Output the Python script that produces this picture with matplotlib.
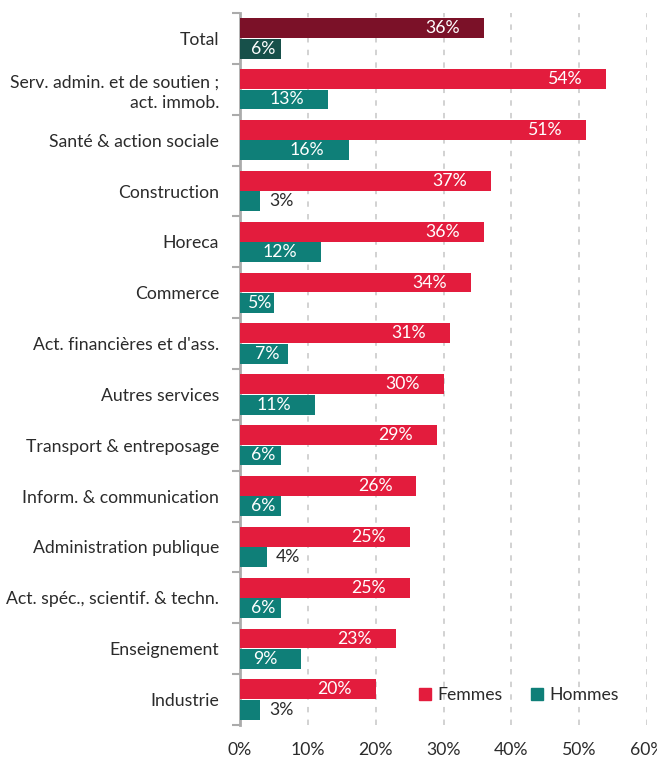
import matplotlib
matplotlib.use("Agg")
import matplotlib.pyplot as plt
from matplotlib.patches import Patch
import numpy as np

plt.rcParams['font.family'] = ['Lato', 'DejaVu Sans']

categories = ["Total", "Serv. admin. et de soutien ;\nact. immob.", "Santé & action sociale",
              "Construction", "Horeca", "Commerce", "Act. financières et d'ass.",
              "Autres services", "Transport & entreposage", "Inform. & communication",
              "Administration publique", "Act. spéc., scientif. & techn.", "Enseignement",
              "Industrie"]
femmes = [36, 54, 51, 37, 36, 34, 31, 30, 29, 26, 25, 25, 23, 20]
hommes = [6, 13, 16, 3, 12, 5, 7, 11, 6, 6, 4, 6, 9, 3]
xticks = [0, 10, 20, 30, 40, 50, 60]

c_f = "#e31c3d"
c_h = "#0f7f78"
c_f_tot = "#7b1128"
c_h_tot = "#17504a"
c_txt = "#2b2b2b"
c_axis = "#ababab"
fs = 12.7

fig = plt.figure(figsize=(6.57, 7.57), dpi=100)
ax = fig.add_axes([240/657, 1-725/757, (646.7-239.5)/657, 712/757])

n = len(categories)
y = np.arange(n)
bh = 0.39
fcol = [c_f_tot] + [c_f]*(n-1)
hcol = [c_h_tot] + [c_h]*(n-1)
ax.barh(y - bh/2 - 0.005, femmes, height=bh, color=fcol, zorder=3)
ax.barh(y + bh/2 + 0.005, hommes, height=bh, color=hcol, zorder=3)

ax.set_xlim(0, 60)
ax.set_ylim(n - 0.5, -0.5)

px = 60 / (646.7 - 239.5)  # data units per pixel
renderer = fig.canvas.get_renderer()

def label(val, yc):
    t = ax.text(0, yc, f"{val}%", fontsize=fs, va='center', ha='right', color='white', zorder=4)
    bb = t.get_window_extent(renderer=renderer)
    w = bb.width * px
    if val * 1.0 >= w + 34 * px:
        t.set_x(val - 24 * px)
    elif val >= w + 6 * px:
        t.set_ha('center')
        t.set_x(val / 2 + 3 * px)
    else:
        t.set_ha('left')
        t.set_color(c_txt)
        t.set_x(val + 9 * px)

for i in range(n):
    label(femmes[i], y[i] - bh/2 - 0.005)
    label(hommes[i], y[i] + bh/2 + 0.005)

ax.set_xticks(xticks)
ax.set_xticklabels([f"{v}%" for v in xticks], fontsize=fs, color=c_txt)
ax.tick_params(axis='x', length=0, pad=12)
ax.xaxis.grid(True, linestyle=(0, (3, 4)), color="#cfcfcf", linewidth=1.3, zorder=0)
ax.set_axisbelow(True)

ax.set_yticks(y)
ax.set_yticklabels(categories, fontsize=fs, color=c_txt, ha='right', linespacing=1.3)
ax.tick_params(axis='y', which='major', length=0, pad=15)
ax.set_yticks(np.arange(n + 1) - 0.5, minor=True)
ax.tick_params(axis='y', which='minor', length=6, width=1.5, color=c_axis, direction='out')

for s in ['top', 'right', 'bottom']:
    ax.spines[s].set_visible(False)
ax.spines['left'].set_color(c_axis)
ax.spines['left'].set_linewidth(2)

handles = [Patch(color=c_f, label="Femmes"), Patch(color=c_h, label="Hommes")]
ax.legend(handles=handles, loc='center left', bbox_to_anchor=(419/657, 1-695/757),
          bbox_transform=fig.transFigure, ncol=2, frameon=False, fontsize=fs,
          handlelength=0.7, handleheight=0.7, handletextpad=0.35, columnspacing=1.6,
          borderpad=0, borderaxespad=0, labelcolor=c_txt)

fig.savefig("out.png", dpi=100)
